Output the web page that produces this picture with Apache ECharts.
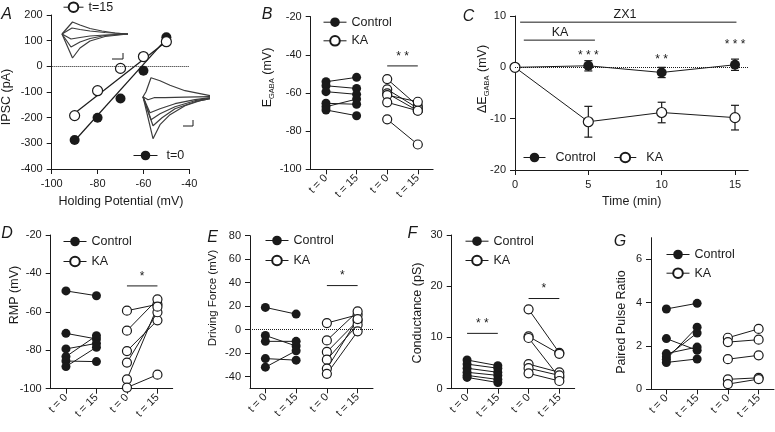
<!DOCTYPE html>
<html><head><meta charset="utf-8">
<script src="https://cdn.jsdelivr.net/npm/echarts@6/dist/echarts.min.js"></script>
<style>html,body{margin:0;padding:0;background:#fff}#c{width:775px;height:432px}</style>
</head><body><div id="c"></div>
<script>
const FONT = "'Liberation Sans', Arial, Helvetica, sans-serif";
const INK = '#1a1a1a';

// ---------- Panel A ----------
const A_voltage = [-90, -80, -70, -60, -50];
const A_ipsc_t0 = [-287, -200, -125, -17, 113];
const A_ipsc_t15 = [-192, -95, -8, 38, 96];
const A_fit_x = [-90, -50];
const A_fit_t0 = [-290, 107];
const A_fit_t15 = [-183, 97];
const A_inset15_traces = [
  [[2,0],[12.5,12],[20,9],[30,5.5],[42,3],[55,1],[68,0]],
  [[2,0],[12,6],[20,4.5],[30,3],[45,1.5],[68,0]],
  [[2,0],[11,-5],[20,-3.5],[30,-2],[45,-1],[68,0]],
  [[2,0],[11,-13],[20,-8],[30,-4.5],[45,-1.5],[68,0]],
  [[2,0],[12.5,-24],[20,-14],[30,-7],[45,-2.5],[68,0]]
];
const A_inset15_scale = [[52,-25],[63,-25],[63,-19]];
const A_inset0_traces = [
  [[3,0],[6,5],[11,19],[20,16],[30,11.5],[45,6],[60,3],[70,1]],
  [[3,0],[8,-3],[14,-1],[25,-1],[45,-0.5],[70,0]],
  [[3,0],[10,-16],[20,-12],[35,-7],[55,-3],[70,-1]],
  [[3,0],[11,-23],[20,-17],[35,-10],[55,-4],[70,-1.5]],
  [[3,0],[13,-29],[22,-21],[35,-12],[55,-5],[70,-2]],
  [[3,0],[13,-42],[20,-28],[30,-18],[45,-9],[60,-4],[70,-2]]
];
const A_inset0_scale = [[43,-29.3],[53,-29.3],[53,-23.3]];

// ---------- Paired panels ----------
const PAIR_LABELS = ['t = 0', 't = 15', 't = 0', 't = 15'];

const B_ctrl_t0  = [-54.1, -56.2, -59.3, -65.4, -67.2, -68.9];
const B_ctrl_t15 = [-51.8, -57.6, -60.7, -65.9, -63.2, -71.9];
const B_ka_t0    = [-52.7, -58.1, -60.2, -61.1, -64.9, -73.8];
const B_ka_t15   = [-66.8, -68.0, -69.3, -64.6, -69.3, -87.0];
const B_sig = [[2, 3, -45.8, '**']];

const D_ctrl_t0  = [-49.1, -71.2, -79.3, -83.3, -85.6, -88.5];
const D_ctrl_t15 = [-51.6, -74.1, -76.4, -72.4, -85.9, -78.4];
const D_ka_t0    = [-59.4, -69.8, -80.4, -86.4, -95.1, -99.4];
const D_ka_t15   = [-56.1, -53.5, -64.4, -60.2, -57.3, -92.7];
const D_sig = [[2, 3, -46.5, '*']];

const E_ctrl_t0  = [18.9, -5, -10, -24.7, -32];
const E_ctrl_t15 = [13.2, -14, -10, -26, -18];
const E_ka_t0    = [5.6, -9.2, -19, -25.6, -33.2, -37.7];
const E_ka_t15   = [12.6, 15.5, 7.6, 4.2, 9, -1.5];
const E_sig = [[2, 3, 37.5, '*']];

const F_ctrl_t0  = [5.6, 4.8, 4.0, 3.2, 2.6, 2.2];
const F_ctrl_t15 = [4.5, 4.0, 3.2, 2.6, 1.8, 1.2];
const F_ka_t0    = [15.5, 10.2, 9.9, 4.8, 4.0, 3.0];
const F_ka_t15   = [7.0, 6.8, 2.2, 3.2, 2.6, 1.5];
const F_sig = [[0, 1, 10.8, '**'], [2, 3, 17.6, '*']];

const G_ctrl_t0  = [3.71, 2.34, 1.50, 1.39, 1.65, 1.24];
const G_ctrl_t15 = [3.97, 1.80, 2.60, 2.87, 1.95, 1.40];
const G_ka_t0    = [2.38, 2.18, 1.39, 0.46, 0.24];
const G_ka_t15   = [2.79, 2.29, 1.57, 0.53, 0.47];

// ---------- Panel C ----------
const C_time = [0, 5, 10, 15];
const C_ctrl = [0, 0.3, -1.0, 0.5];
const C_ctrl_err = [0, 1.0, 1.0, 1.1];
const C_ka = [0, -10.6, -8.8, -9.8];
const C_ka_err = [0, 3.0, 2.0, 2.4];
const C_stars = [[5, 2.9, '***'], [10, 2.0, '**'], [15, 5.0, '***']];
const C_zx1_bar = [[0.35, 8.8], [15.1, 8.8]];
const C_ka_bar = [[0.6, 5.3], [5.45, 5.3]];
const C_bar_text = [[7.5, 8.8, 'ZX1'], [3.07, 5.3, 'KA']];

// ---------- helpers ----------
function axis(o) {
  const a = {
    type: 'value', gridIndex: o.g, min: o.min, max: o.max,
    axisLine: {show: true, onZero: false, lineStyle: {color: INK, width: 1}},
    axisTick: {show: true, length: 5, lineStyle: {color: INK, width: 1}},
    axisLabel: {fontSize: 11, color: INK, fontFamily: FONT, margin: o.margin || 9},
    splitLine: {show: false}
  };
  if (o.interval !== undefined) a.interval = o.interval;
  if (o.ticks) { a.axisTick.customValues = o.ticks; a.axisLabel.customValues = o.ticks; }
  if (o.fmt) a.axisLabel.formatter = o.fmt;
  if (o.rotate) a.axisLabel.rotate = o.rotate;
  return a;
}
function hidden(g, min, max) { return {type: 'value', gridIndex: g, min, max, show: false}; }
const COMMON = {animation: false, silent: true, emphasis: {disabled: true}};
const CLEAR = {color: 'rgba(0,0,0,0)', opacity: 1};
function styleOf(name, size) {
  if (name === 'KA' || name === 't=15')
    return {symbol: 'circle', symbolSize: size, itemStyle: {color: '#fff', borderColor: INK, borderWidth: 1.2}, lineStyle: {color: INK, width: 1}};
  return {symbol: 'circle', symbolSize: size, itemStyle: {color: INK}, lineStyle: {color: INK, width: 1}};
}
function pairs(idx, t0, t15, name, xs) {
  return t0.map((v, i) => Object.assign({type: 'line', name, xAxisIndex: idx, yAxisIndex: idx,
    data: [[xs[0], v], [xs[1], t15[i]]]}, styleOf(name, 9), COMMON));
}
function spaced(t) { return t.split('').join(' '); }
function sigs(idx, list) {
  const out = [];
  list.forEach(([x0, x1, y, txt]) => {
    out.push(Object.assign({type: 'line', xAxisIndex: idx, yAxisIndex: idx, data: [[x0, y], [x1, y]],
      symbol: 'none', lineStyle: {color: INK, width: 1}}, COMMON));
    out.push(Object.assign({type: 'line', xAxisIndex: idx, yAxisIndex: idx, data: [[(x0 + x1) / 2, y]],
      symbol: 'circle', symbolSize: 1, itemStyle: CLEAR, lineStyle: {width: 0},
      label: {show: true, position: 'top', distance: 3, formatter: spaced(txt), fontSize: 12, color: INK, opacity: 1, fontFamily: FONT}}, COMMON));
  });
  return out;
}
function zeroLine() {
  return {silent: true, symbol: ['none', 'none'], label: {show: false},
    lineStyle: {type: 'dotted', color: INK, width: 1}, data: [{yAxis: 0}]};
}
function traces(idx, list) {
  return list.map(d => Object.assign({type: 'line', xAxisIndex: idx, yAxisIndex: idx, data: d,
    symbol: 'none', lineStyle: {color: '#3c3c3c', width: 1.2}}, COMMON));
}
function errBars(idx, xs, m, e) {
  return Object.assign({type: 'custom', xAxisIndex: idx, yAxisIndex: idx, z: 1,
    data: xs.map((x, i) => [x, m[i] - e[i], m[i] + e[i]]),
    renderItem: (p, api) => {
      const x = api.value(0);
      const lo = api.coord([x, api.value(1)]), hi = api.coord([x, api.value(2)]);
      if (Math.abs(lo[1] - hi[1]) < 0.5) return null;
      const st = {stroke: INK, lineWidth: 1.2};
      return {type: 'group', children: [
        {type: 'line', shape: {x1: lo[0], y1: lo[1], x2: hi[0], y2: hi[1]}, style: st},
        {type: 'line', shape: {x1: lo[0] - 4, y1: lo[1], x2: lo[0] + 4, y2: lo[1]}, style: st},
        {type: 'line', shape: {x1: hi[0] - 4, y1: hi[1], x2: hi[0] + 4, y2: hi[1]}, style: st}
      ]};
    }}, COMMON);
}
function legend(names, left, top, extra) {
  return Object.assign({data: names, left, top, orient: 'vertical', padding: 0, itemWidth: 23, itemHeight: 12, itemGap: 6,
    selectedMode: false, lineStyle: {width: 1, color: INK, opacity: 1},
    textStyle: {fontSize: 12.5, color: INK, fontFamily: FONT}}, extra || {});
}
function gText(text, x, y, o) {
  o = o || {};
  return {type: 'text', x, y, rotation: o.rot || 0, silent: true,
    style: Object.assign({text, fontSize: o.size || 12.5, fontFamily: FONT, fontStyle: o.italic ? 'italic' : 'normal',
      fill: INK, align: 'center', textAlign: 'center', verticalAlign: 'middle', textVerticalAlign: 'middle'}, o.rich ? {rich: o.rich} : {})};
}
const RICH = {m: {fontSize: 12.5, fontFamily: FONT, fill: INK, color: INK, lineHeight: 15, verticalAlign: 'middle'},
              s: {fontSize: 7.5, fontFamily: FONT, fill: INK, color: INK, lineHeight: 8, verticalAlign: 'bottom'}};

// ---------- grids ----------
const grids = [
  {left: 51.7, top: 15, width: 137.6, height: 154},     // 0 A
  {left: 60, top: 20, width: 72, height: 40},           // 1 inset t=15
  {left: 140, top: 71.7, width: 72, height: 70},        // 2 inset t=0
  {left: 310.7, top: 16.7, width: 122.4, height: 152.6},// 3 B
  {left: 515, top: 16, width: 233.2, height: 154},      // 4 C
  {left: 50.7, top: 235, width: 122, height: 153.7},    // 5 D
  {left: 250, top: 235.7, width: 123, height: 152.6},   // 6 E
  {left: 451.7, top: 235, width: 123, height: 153.7},   // 7 F
  {left: 651, top: 237.7, width: 123, height: 151.6}    // 8 G
].map(g => Object.assign({containLabel: false, outerBoundsMode: 'none'}, g));

const pairX = g => axis({g, min: -0.5, max: 3.5, ticks: [0, 1, 2, 3], fmt: v => PAIR_LABELS[v], rotate: 45, margin: 7});

const xAxes = [
  axis({g: 0, min: -100, max: -40, interval: 20}),
  hidden(1, 0, 72), hidden(2, 0, 72),
  pairX(3),
  axis({g: 4, min: 0, max: 15.9, ticks: [0, 5, 10, 15]}),
  pairX(5), pairX(6), pairX(7), pairX(8)
];
const yAxes = [
  axis({g: 0, min: -400, max: 200, interval: 100}),
  hidden(1, -26, 14), hidden(2, -45, 25),
  axis({g: 3, min: -100, max: -20, interval: 20}),
  axis({g: 4, min: -20, max: 10, interval: 10}),
  axis({g: 5, min: -100, max: -20, interval: 20}),
  axis({g: 6, min: -50, max: 80, ticks: [-40, -20, 0, 20, 40, 60, 80]}),
  axis({g: 7, min: 0, max: 30, interval: 10}),
  axis({g: 8, min: 0, max: 7, ticks: [0, 2, 4, 6]})
];

// ---------- series ----------
const series = [];
// A
series.push(Object.assign({type: 'line', name: 'fit0', xAxisIndex: 0, yAxisIndex: 0,
  data: A_fit_x.map((x, i) => [x, A_fit_t0[i]]), symbol: 'none', lineStyle: {color: INK, width: 1.2}, markLine: zeroLine()}, COMMON));
series.push(Object.assign({type: 'line', name: 'fit15', xAxisIndex: 0, yAxisIndex: 0,
  data: A_fit_x.map((x, i) => [x, A_fit_t15[i]]), symbol: 'none', lineStyle: {color: INK, width: 1.2}}, COMMON));
series.push(Object.assign({type: 'line', name: 't=0', xAxisIndex: 0, yAxisIndex: 0,
  data: A_voltage.map((x, i) => [x, A_ipsc_t0[i]])}, styleOf('t=0', 10), {lineStyle: {width: 0, color: INK}}, COMMON));
series.push(Object.assign({type: 'line', name: 't=15', xAxisIndex: 0, yAxisIndex: 0,
  data: A_voltage.map((x, i) => [x, A_ipsc_t15[i]])}, styleOf('t=15', 10), {lineStyle: {width: 0, color: INK}}, COMMON));
series.push(...traces(1, A_inset15_traces));
series.push(...traces(2, A_inset0_traces));
series.push(Object.assign({type: 'line', xAxisIndex: 1, yAxisIndex: 1, data: A_inset15_scale, symbol: 'none', lineStyle: {color: INK, width: 1}}, COMMON));
series.push(Object.assign({type: 'line', xAxisIndex: 2, yAxisIndex: 2, data: A_inset0_scale, symbol: 'none', lineStyle: {color: INK, width: 1}}, COMMON));

// B
series.push(...pairs(3, B_ctrl_t0, B_ctrl_t15, 'Control', [0, 1]));
series.push(...pairs(3, B_ka_t0, B_ka_t15, 'KA', [2, 3]));
series.push(...sigs(3, B_sig));

// C
series.push(errBars(4, C_time, C_ctrl, C_ctrl_err));
series.push(errBars(4, C_time, C_ka, C_ka_err));
series.push(Object.assign({type: 'line', name: 'Control', xAxisIndex: 4, yAxisIndex: 4,
  data: C_time.map((t, i) => [t, C_ctrl[i]]), markLine: zeroLine()}, styleOf('Control', 10), COMMON));
series.push(Object.assign({type: 'line', name: 'KA', xAxisIndex: 4, yAxisIndex: 4,
  data: C_time.map((t, i) => [t, C_ka[i]])}, styleOf('KA', 10), COMMON));
[C_zx1_bar, C_ka_bar].forEach(b => series.push(Object.assign({type: 'line', xAxisIndex: 4, yAxisIndex: 4, data: b,
  symbol: 'none', lineStyle: {color: INK, width: 1}}, COMMON)));
series.push(Object.assign({type: 'line', xAxisIndex: 4, yAxisIndex: 4, clip: false, lineStyle: {width: 0},
  data: C_bar_text.map(d => [d[0], d[1]]), symbol: 'circle', symbolSize: 1, itemStyle: CLEAR, connectNulls: false,
  label: {show: true, position: 'top', distance: 1, formatter: p => C_bar_text[p.dataIndex][2], fontSize: 12.5, color: INK, opacity: 1, fontFamily: FONT}}, COMMON));
series.push(Object.assign({type: 'line', xAxisIndex: 4, yAxisIndex: 4, clip: false, lineStyle: {width: 0},
  data: C_stars.map(d => [d[0], d[1]]), symbol: 'circle', symbolSize: 1, itemStyle: CLEAR,
  label: {show: true, position: 'inside', offset: [0, 3], formatter: p => spaced(C_stars[p.dataIndex][2]), fontSize: 12, color: INK, opacity: 1, textBorderWidth: 0, fontFamily: FONT}}, COMMON));

// D
series.push(...pairs(5, D_ctrl_t0, D_ctrl_t15, 'Control', [0, 1]));
series.push(...pairs(5, D_ka_t0, D_ka_t15, 'KA', [2, 3]));
series.push(...sigs(5, D_sig));
// E
const eSig = sigs(6, E_sig);
eSig[0].markLine = zeroLine();
series.push(...eSig);
series.push(...pairs(6, E_ctrl_t0, E_ctrl_t15, 'Control', [0, 1]));
series.push(...pairs(6, E_ka_t0, E_ka_t15, 'KA', [2, 3]));
// F
series.push(...pairs(7, F_ctrl_t0, F_ctrl_t15, 'Control', [0, 1]));
series.push(...pairs(7, F_ka_t0, F_ka_t15, 'KA', [2, 3]));
series.push(...sigs(7, F_sig));
// G
series.push(...pairs(8, G_ctrl_t0, G_ctrl_t15, 'Control', [0, 1]));
series.push(...pairs(8, G_ka_t0, G_ka_t15, 'KA', [2, 3]));

// ---------- legends ----------
const legends = [
  legend(['t=15'], 63, 0.7, {itemWidth: 20}),
  legend(['t=0'], 133, 149, {itemWidth: 24, textStyle: {fontSize: 12.5, color: INK, fontFamily: FONT, padding: [0, 0, 0, 4]}}),
  legend(['Control', 'KA'], 323, 15.7, {itemGap: 5.6}),
  legend(['Control', 'KA'], 523, 151, {orient: 'horizontal', itemWidth: 22, itemGap: 18, textStyle: {fontSize: 12.5, color: INK, fontFamily: FONT, padding: [0, 0, 0, 5]}}),
  legend(['Control', 'KA'], 63, 235, {itemGap: 7}),
  legend(['Control', 'KA'], 265, 234, {itemGap: 7}),
  legend(['Control', 'KA'], 465, 234.7, {itemGap: 6.3}),
  legend(['Control', 'KA'], 666, 248, {itemGap: 5.7})
];

// ---------- texts ----------
const R = Math.PI / 2;
const graphics = [
  gText('A', 6.5, 15, {italic: true, size: 16}),
  gText('B', 267, 15, {italic: true, size: 16}),
  gText('C', 468.5, 17, {italic: true, size: 16}),
  gText('D', 7, 234, {italic: true, size: 16}),
  gText('E', 212.5, 237.5, {italic: true, size: 16}),
  gText('F', 412.5, 234, {italic: true, size: 16}),
  gText('G', 620, 242, {italic: true, size: 16}),
  gText('IPSC (pA)', 7, 97, {rot: R}),
  gText('{m|E}{s|GABA}{m| (mV)}', 268, 77.5, {rot: R, rich: RICH}),
  gText('{m|ΔE}{s|GABA}{m| (mV)}', 483, 79, {rot: R, rich: RICH}),
  gText('RMP (mV)', 15, 295, {rot: R}),
  gText('Driving Force (mV)', 213, 298, {rot: R, size: 11.5}),
  gText('Conductance (pS)', 418, 313, {rot: R}),
  gText('Paired Pulse Ratio', 622, 322, {rot: R}),
  gText('Holding Potential (mV)', 121, 202),
  gText('Time (min)', 631.7, 202)
];

const chart = echarts.init(document.getElementById('c'), null, {renderer: 'canvas'});
chart.setOption({
  animation: false,
  backgroundColor: '#fff',
  textStyle: {fontFamily: FONT},
  grid: grids, xAxis: xAxes, yAxis: yAxes,
  legend: legends, series, graphic: {elements: graphics}
});
</script></body></html>
